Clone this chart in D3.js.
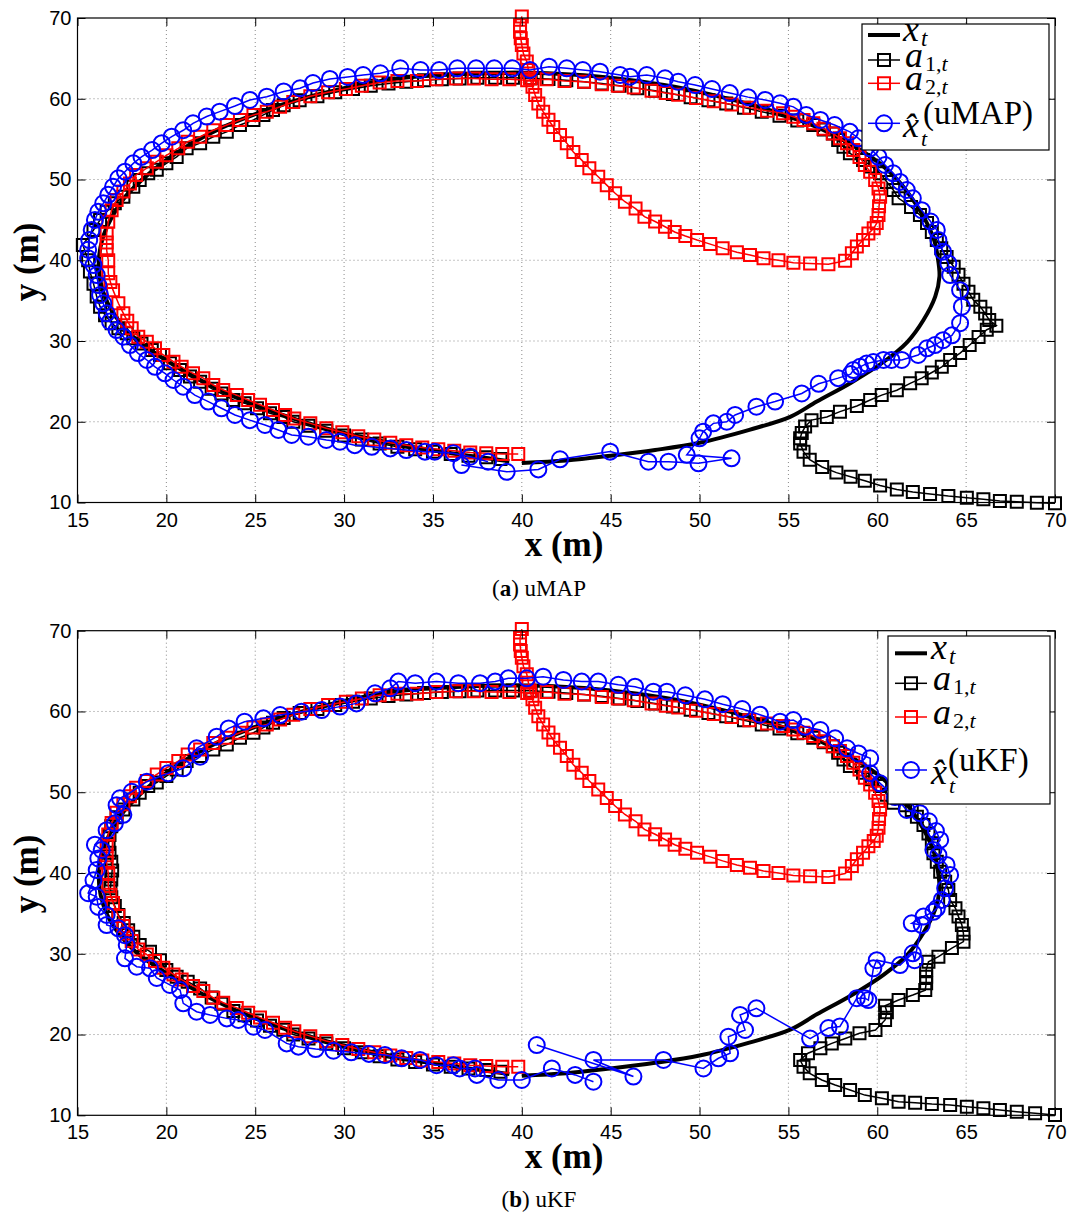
<!DOCTYPE html>
<html>
<head>
<meta charset="utf-8">
<script src="https://cdn.jsdelivr.net/npm/d3@7"></script>
<style>
  body { margin: 0; background: #fff; }
  svg { display: block; }
</style>
</head>
<body>
<svg id="fig" width="1069" height="1216"></svg>
<script>
// ---- axis ticks ----
const xTicks = [15, 20, 25, 30, 35, 40, 45, 50, 55, 60, 65, 70];
const yTicks = [10, 20, 30, 40, 50, 60, 70];

// ---- true target trajectory x_t (m) ----
const truePath = [[40,14.9],[42.5,15.2],[45,15.8],[47.5,16.5],[50,17.4],[52.8,19.0],[55.1,20.6],[56.6,22.5],[58.5,24.8],[60.35,27.4],[61.7,29.9],[62.6,32.6],[63.26,35.5],[63.5,38.0],[63.4,40.4],[63.2,42.5],[62.7,45],[62.0,47.5],[61.2,49.8],[60.2,51.9],[58.8,54.0],[57.2,55.9],[55.3,57.6],[53.0,59.2],[50.5,60.6],[48,61.7],[45,62.6],[42,63.1],[39,63.2],[36,63.0],[33,62.5],[30,61.3],[27,59.6],[25,58.1],[23,56.3],[21.3,54.3],[19.8,52.1],[18.6,49.9],[17.6,47.6],[16.9,45.2],[16.4,42.6],[16.2,40.0],[16.3,37.3],[16.7,34.7],[17.4,32.3],[18.3,30.2],[19.5,28.3],[21.3,25.9],[23.4,23.5],[25.8,21.4],[28.3,19.6],[30.8,18.2],[33.3,17.1],[35.8,16.2],[38.0,15.5],[39.3,15.1]];

// ---- agent 1 track: start segment (uMAP run) ----
const a1StartMAP = [[70.0,9.9],[68.98,9.98],[67.85,10.1],[66.9,10.2],[65.97,10.4],[65.04,10.6],[64.0,10.8],[62.97,11.05],[62.0,11.3],[61.1,11.6],[60.16,12.1],[59.3,12.7],[58.5,13.2],[57.7,13.7],[56.9,14.4],[56.2,15.3],[55.85,16.3],[55.66,17.3],[55.66,17.95],[55.75,18.6],[55.94,19.4],[56.3,20.2],[57.16,20.6],[57.9,21.25],[58.85,21.95],[59.6,22.7],[60.25,23.3],[61.1,23.9],[61.85,24.76],[62.5,25.4],[63.07,26.1],[63.63,26.8],[64.1,27.65],[64.66,28.5],[65.2,29.5],[65.7,30.5],[66.16,31.4],[66.7,31.9],[66.3,32.6],[66.07,33.4],[65.8,34.25],[65.4,35.1],[65.13,36.1],[64.85,37.1],[64.57,38.2],[64.3,39.2],[63.9,40.4],[63.6,41.5],[63.35,42.5],[63.07,43.5],[62.8,44.6],[62.4,45.6],[61.9,46.6],[61.2,47.67]];

// ---- agent 1 track: start segment (uKF run) ----
const a1StartKF = [[70.0,10.04],[68.88,10.25],[67.85,10.45],[66.9,10.66],[65.97,10.87],[65.04,11.07],[64.1,11.28],[63.07,11.4],[62.13,11.56],[61.2,11.69],[60.26,12.1],[59.3,12.5],[58.47,13.13],[57.63,13.75],[56.88,14.37],[56.2,15.2],[55.85,16.0],[55.66,16.85],[56.1,17.68],[56.8,18.3],[57.44,18.9],[58.2,19.5],[59.0,20.15],[59.9,20.56],[60.44,21.8],[60.54,22.75],[60.44,23.57],[61.2,24.27],[62.0,24.9],[62.7,25.5],[62.75,26.35],[62.75,27.16],[62.75,28.0],[62.88,29.0],[63.44,29.64],[64.2,30.7],[64.85,31.5],[64.85,32.5],[64.76,33.56],[64.57,34.6],[64.4,35.63],[64.1,36.66],[64.0,37.9],[63.82,38.93],[63.54,40.16],[63.35,41.4],[63.16,42.44],[63.07,43.68],[62.88,44.9],[62.6,45.95],[62.23,46.97],[61.94,47.8],[61.57,48.4]];

// ---- agent 1 track: upper part of the loop (shared) ----
const a1Upper = [[60.9,48.7],[60.54,49.7],[60.16,50.77],[59.7,51.6],[59.2,52.4],[58.46,53.24],[58.1,54.06],[57.8,54.9],[57.5,55.7],[57.0,56.2],[56.4,56.75],[55.5,57.3],[54.5,57.9],[53.5,58.4],[52.5,58.9],[51.5,59.4],[50.5,59.8],[49.5,60.2],[48.5,60.6],[47.5,61.0],[46.5,61.3],[45.5,61.6],[44.5,61.9],[43.5,62.1],[42.5,62.3],[41.5,62.45],[40.5,62.55],[39.5,62.6],[38.5,62.6],[37.5,62.6],[36.5,62.5],[35.5,62.4],[34.5,62.3],[33.5,62.1],[32.5,61.9],[31.5,61.6],[30.5,61.2],[29.5,60.8],[28.5,60.3],[27.5,59.8],[26.6,59.2],[26.0,58.6],[25.46,58.0],[24.9,57.37],[24.14,56.75],[23.4,55.9],[22.64,55.3],[21.9,54.5],[21.14,53.86],[20.58,52.8],[20.0,52.0],[19.46,51.2],[18.98,50.77],[18.5,49.94],[18.14,49.1]];

// ---- agent 1 track: left side and bottom (uMAP run) ----
const a1LowerMAP = [[17.58,47.87],[17.1,47.05],[16.64,46.0],[16.27,45.0],[15.9,43.75],[15.3,41.9],[15.6,40.0],[15.7,38.6],[15.9,37.1],[16.08,35.5],[16.27,34.25],[16.55,33.2],[16.92,32.2],[17.3,31.57],[17.77,30.95],[18.14,30.33],[18.6,29.7],[19.18,28.9],[19.64,28.27],[20.2,27.24],[20.77,26.4],[21.33,25.6],[21.9,24.96],[22.55,24.1],[23.1,23.5],[23.77,22.7],[24.4,22.3],[25.1,21.67],[25.83,21.05],[26.58,20.6],[27.14,20.0],[28.0,19.5],[29.0,18.9],[30.0,18.3],[31.0,17.8],[32.0,17.3],[33.0,16.9],[34.0,16.6],[35.0,16.3],[36.0,16.0],[37.0,15.8],[38.0,15.6],[38.8,15.4]];

// ---- agent 1 track: left side and bottom (uKF run) ----
const a1LowerKF = [[17.58,47.87],[17.2,46.9],[16.9,45.8],[16.8,44.7],[16.75,43.6],[16.8,42.5],[16.9,41.4],[16.95,40.3],[16.9,39.2],[16.85,38.1],[16.9,37.0],[17.1,35.9],[17.3,34.8],[17.6,33.8],[17.85,32.9],[18.14,32.1],[18.5,31.1],[19.08,30.26],[19.64,29.2],[20.0,28.0],[20.58,27.16],[21.2,26.55],[21.9,25.7],[22.55,24.6],[23.1,23.8],[23.77,22.9],[24.4,22.4],[25.1,21.75],[25.83,21.1],[26.58,20.6],[27.14,20.0],[28.0,19.5],[29.0,18.9],[30.0,18.3],[31.0,17.8],[32.0,17.3],[33.0,16.9],[34.0,16.6],[35.0,16.3],[36.0,16.0],[37.0,15.8],[38.0,15.6],[38.8,15.4]];

// ---- agent 2 track (shared) ----
const a2Path = [[40.0,70.2],[39.9,69.1],[39.9,68.3],[39.94,67.5],[40.0,66.65],[40.09,65.6],[40.28,64.6],[40.37,63.56],[40.46,62.5],[40.6,61.5],[40.75,60.46],[40.93,59.4],[41.2,58.4],[41.5,57.4],[41.77,56.5],[42.15,55.5],[42.53,54.5],[42.9,53.4],[43.37,52.4],[43.8,51.4],[44.3,50.35],[44.78,49.3],[45.25,48.3],[45.8,47.25],[46.4,46.4],[46.9,45.4],[47.5,44.8],[48.06,44.15],[48.6,43.5],[49.2,43.0],[49.86,42.5],[50.6,42.0],[51.3,41.5],[52.1,41.0],[52.84,40.65],[53.6,40.24],[54.44,40.0],[55.28,39.7],[56.22,39.6],[57.25,39.5],[58.19,39.94],[58.57,40.86],[58.85,41.7],[59.2,42.5],[59.5,43.3],[59.8,43.95],[59.97,44.6],[60.07,45.6],[60.1,46.7],[60.16,47.87],[60.07,48.9],[59.88,49.94],[59.6,50.97],[59.3,51.8],[59.0,52.8],[58.65,53.65],[58.3,54.5],[57.9,55.1],[57.5,55.7],[56.97,56.3],[56.4,56.96],[55.85,57.37],[55.28,57.78],[54.7,58.2],[53.8,58.5],[52.8,58.9],[51.8,59.3],[50.8,59.7],[49.8,60.1],[48.8,60.5],[48.1,60.7],[47.3,61.0],[46.3,61.4],[45.4,61.6],[44.5,61.8],[43.5,62.1],[42.4,62.2],[41.4,62.4],[40.3,62.3],[39.3,62.4],[38.3,62.4],[37.3,62.5],[36.3,62.5],[35.2,62.4],[34.1,62.2],[33.0,62.2],[32.0,62.0],[31.0,61.6],[30.1,61.2],[29.1,60.8],[28.1,60.3],[27.14,59.6],[26.4,59.0],[25.65,58.4],[24.9,58.0],[24.14,57.37],[23.4,56.75],[22.64,56.1],[21.9,55.3],[21.2,54.68],[20.67,53.86],[20.0,53.0],[19.46,52.2],[18.9,51.4],[18.3,50.56],[17.95,49.5],[17.58,48.5],[17.2,47.46],[16.92,46.2],[16.73,44.77],[16.64,43.3],[16.64,42.2],[16.64,41.27],[16.73,40.0],[16.73,38.4],[16.85,37.3],[17.0,36.3],[17.3,34.67],[17.58,33.43],[17.8,32.5],[18.05,31.57],[18.42,30.53],[18.9,29.9],[19.36,29.1],[19.83,28.27],[20.4,27.44],[20.86,26.8],[21.5,26.0],[22.08,25.4],[22.64,24.55],[23.2,23.93],[23.96,23.3],[24.6,22.7],[25.27,22.1],[26.0,21.46],[26.68,20.84],[27.2,20.4],[28.1,19.8],[29.0,19.2],[29.9,18.7],[30.8,18.2],[31.7,17.8],[32.6,17.4],[33.5,17.1],[34.4,16.8],[35.3,16.6],[36.2,16.4],[37.1,16.2],[38.0,16.1],[38.9,16.0],[39.8,16.0]];

// ---- uMAP estimate ----
const estMAP = [[36.6,14.64],[39.15,13.8],[40.93,14.1],[42.15,15.35],[44.97,16.3],[47.12,15.05],[48.25,15.05],[49.94,14.85],[51.8,15.47],[49.28,15.9],[50.0,17.95],[50.2,18.77],[50.78,19.8],[51.53,20.0],[52.0,20.84],[53.2,21.86],[54.25,22.5],[55.75,23.5],[56.7,24.7],[57.8,25.4],[58.5,25.9],[58.66,26.4],[59.03,26.8],[59.4,27.2],[59.78,27.4],[60.35,27.65],[60.8,27.65],[61.38,27.65],[62.3,28.27],[62.8,29.1],[63.25,29.5],[63.7,30.1],[64.2,30.7],[64.66,32.2],[64.76,34.25],[64.66,36.3],[64.1,38.17],[64.0,39.6],[63.7,41.06],[63.44,42.5],[63.35,43.75],[63.0,44.8],[62.5,46.2],[62.0,47.67],[61.66,48.7],[61.28,49.7],[60.9,50.77],[60.44,51.8],[60.07,52.8],[59.6,53.86],[58.94,55.1],[58.46,55.9],[57.6,56.75],[56.8,57.37],[56.0,58.0],[55.28,59.0],[54.53,59.44],[53.7,59.85],[52.73,60.2],[51.7,60.7],[50.7,61.2],[49.75,61.7],[48.8,62.1],[48.06,62.53],[47.03,62.94],[46.09,62.73],[45.53,62.94],[44.4,63.35],[43.43,63.56],[42.53,63.77],[41.53,63.97],[40.46,63.56],[39.47,63.77],[38.45,63.77],[37.43,63.77],[36.37,63.77],[35.35,63.56],[34.3,63.56],[33.16,63.77],[32.04,63.15],[31.07,62.94],[30.2,62.7],[29.2,62.45],[28.25,61.95],[27.52,61.3],[26.6,60.9],[25.65,60.25],[24.7,59.85],[23.86,59.1],[23.0,58.4],[22.27,57.8],[21.5,56.96],[20.95,56.1],[20.3,55.3],[19.74,54.5],[19.2,53.65],[18.6,52.8],[18.14,52.0],[17.67,50.97],[17.3,50.15],[17.0,49.1],[16.73,48.1],[16.45,47.05],[16.17,46.0],[15.98,45.0],[15.8,43.75],[15.66,42.5],[15.6,41.3],[15.6,40.24],[15.9,39.4],[16.08,38.17],[16.17,36.93],[16.27,35.7],[16.45,34.67],[16.64,33.43],[16.83,32.4],[17.2,31.36],[17.58,30.53],[17.95,29.5],[18.4,28.5],[18.9,27.65],[19.36,26.8],[19.92,26.0],[20.4,25.17],[20.95,24.34],[21.6,23.3],[22.36,22.5],[23.1,21.67],[23.86,20.84],[24.7,20.2],[25.55,19.6],[26.3,18.98],[27.05,18.36],[27.99,18.15],[29.0,17.74],[29.77,17.53],[30.6,17.1],[31.56,16.9],[32.6,16.7],[33.5,16.5],[34.55,16.3],[35.1,16.3],[36.15,16.1],[37.1,15.67],[38.1,15.05]];

// ---- uKF estimate ----
const estKF = [[40.84,18.7],[46.28,14.8],[44.03,16.85],[47.97,16.85],[50.22,15.8],[51.06,17.06],[51.72,17.68],[51.62,19.73],[52.56,20.56],[52.28,22.42],[53.2,23.25],[56.22,19.5],[57.25,20.8],[57.9,21.0],[58.85,24.5],[59.3,24.5],[59.5,24.27],[59.78,28.2],[59.97,29.2],[61.28,28.6],[62.0,30.06],[62.1,29.2],[62.5,33.56],[61.94,33.77],[62.6,34.6],[63.16,35.2],[63.35,35.63],[63.63,36.66],[63.82,38.1],[64.1,39.76],[63.9,41.0],[63.44,42.2],[63.16,42.85],[63.54,44.1],[63.3,45.2],[62.9,46.4],[62.4,47.4],[61.66,47.8],[61.0,49.4],[60.16,51.1],[59.6,52.35],[59.6,54.2],[58.94,54.8],[58.3,55.44],[57.63,56.67],[56.8,57.7],[55.94,58.1],[55.28,58.94],[54.53,58.73],[53.4,59.6],[52.4,60.3],[51.3,60.9],[50.3,61.5],[49.2,62.0],[48.16,62.45],[47.4,62.45],[46.37,63.07],[45.43,63.3],[44.3,63.7],[43.37,63.7],[42.34,63.9],[41.2,64.3],[40.28,64.1],[39.24,64.1],[38.5,63.7],[37.65,63.5],[36.43,63.5],[35.2,63.7],[34.0,63.5],[33.05,63.7],[32.6,62.87],[31.74,62.25],[30.7,61.0],[29.77,60.6],[28.74,60.18],[27.6,59.97],[26.4,59.56],[25.46,59.15],[24.4,58.73],[23.5,57.9],[22.83,56.88],[21.7,55.44],[21.9,54.4],[20.95,52.96],[20.1,52.35],[18.9,51.3],[18.05,50.06],[17.39,49.25],[17.2,48.4],[17.58,47.2],[17.1,46.15],[16.64,45.3],[15.98,43.5],[16.36,42.85],[16.17,41.8],[16.08,40.37],[15.9,39.1],[15.6,37.5],[16.08,37.06],[16.17,35.8],[16.64,34.8],[16.64,33.56],[17.3,33.15],[17.67,32.3],[17.77,31.1],[17.67,29.44],[18.33,28.4],[19.08,28.2],[19.46,27.0],[20.2,26.14],[20.77,25.5],[20.95,23.86],[21.7,22.83],[22.46,22.42],[23.4,22.0],[24.05,21.8],[24.9,20.97],[25.55,20.56],[26.77,18.9],[27.43,18.5],[28.4,18.2],[29.4,18.0],[30.4,17.8],[31.4,17.6],[32.3,17.47],[33.24,17.06],[34.27,16.85],[35.2,16.2],[36.15,16.2],[36.5,15.8],[37.37,15.8],[37.47,15.0],[38.68,14.37],[40.0,14.37],[41.69,15.8],[43.0,15.0],[44.03,14.16]];

const svg = d3.select("#fig");
const FONT_TICK = "'Liberation Sans', Arial, sans-serif";
const FONT_SERIF = "'Liberation Serif', 'Times New Roman', serif";

const panels = [
  { top: 18, bottom: 502.5, a1: a1StartMAP.concat(a1Upper, a1LowerMAP), est: estMAP,
    letter: "a", method: "uMAP", xLabelY: 556, capY: 596, yLabelY: 262,
    legend: { x0: 862, y0: 24, x1: 1049, y1: 150, sx0: 868, sx1: 900,
              rows: [35, 60, 83.3, 123.3], tx: 903, supDx: 4 } },
  { top: 630.7, bottom: 1115.3, a1: a1StartKF.concat(a1Upper, a1LowerKF), est: estKF,
    letter: "b", method: "uKF", xLabelY: 1168, capY: 1207, yLabelY: 874,
    legend: { x0: 888, y0: 636, x1: 1050, y1: 804, sx0: 895, sx1: 927,
              rows: [653.3, 683.3, 717, 770], tx: 931, supDx: 1 } }
];

const x = d3.scaleLinear().domain([15, 70]).range([77.5, 1055]);
const squareSym = d3.symbol().type(d3.symbolSquare).size(12 * 12);
const circleSym = d3.symbol().type(d3.symbolCircle).size(Math.PI * 8 * 8);

function markers(g, data, sx, sy, sym, color) {
  g.append("g").selectAll("path").data(data).join("path")
    .attr("transform", d => `translate(${sx(d[0])},${sy(d[1])})`)
    .attr("d", sym)
    .attr("fill", "none").attr("stroke", color).attr("stroke-width", 2);
}

function drawPanel(p) {
  const g = svg.append("g");
  const y = d3.scaleLinear().domain([10, 70]).range([p.bottom, p.top]);

  // dotted grid
  g.append("g").selectAll("line").data(xTicks.slice(1, -1)).join("line")
    .attr("x1", d => x(d)).attr("x2", d => x(d))
    .attr("y1", p.top).attr("y2", p.bottom)
    .attr("stroke", "#8a8a8a").attr("stroke-width", 1).attr("stroke-dasharray", "1,3");
  g.append("g").selectAll("line").data(yTicks.slice(1, -1)).join("line")
    .attr("y1", d => y(d)).attr("y2", d => y(d))
    .attr("x1", 77.5).attr("x2", 1055)
    .attr("stroke", "#8a8a8a").attr("stroke-width", 1).attr("stroke-dasharray", "1,3");

  const smooth = d3.line().x(d => x(d[0])).y(d => y(d[1])).curve(d3.curveCatmullRom);
  const poly = d3.line().x(d => x(d[0])).y(d => y(d[1]));

  // true trajectory
  g.append("path").datum(truePath).attr("d", smooth)
    .attr("fill", "none").attr("stroke", "#000").attr("stroke-width", 4).attr("stroke-linejoin", "round");

  // agent 1
  g.append("path").datum(p.a1).attr("d", poly)
    .attr("fill", "none").attr("stroke", "#000").attr("stroke-width", 1.5);
  markers(g, p.a1, x, y, squareSym, "#000");

  // agent 2
  g.append("path").datum(a2Path).attr("d", poly)
    .attr("fill", "none").attr("stroke", "#ff0000").attr("stroke-width", 1.5);
  markers(g, a2Path, x, y, squareSym, "#ff0000");

  // estimate
  g.append("path").datum(p.est).attr("d", poly)
    .attr("fill", "none").attr("stroke", "#0000ff").attr("stroke-width", 1.5);
  markers(g, p.est, x, y, circleSym, "#0000ff");

  // axes with inward ticks on all four sides
  const styleAxis = sel => {
    sel.select(".domain").remove();
    sel.selectAll(".tick line").attr("stroke", "#000");
    sel.selectAll("text").attr("font-family", FONT_TICK).attr("font-size", 20).attr("fill", "#000");
  };
  g.append("g").attr("transform", `translate(0,${p.bottom})`)
    .call(d3.axisBottom(x).tickValues(xTicks).tickSizeInner(-8).tickSizeOuter(0).tickPadding(10))
    .call(styleAxis);
  g.append("g").attr("transform", `translate(0,${p.top})`)
    .call(d3.axisTop(x).tickValues(xTicks).tickSizeInner(-8).tickSizeOuter(0).tickFormat(""))
    .call(styleAxis);
  g.append("g").attr("transform", `translate(77.5,0)`)
    .call(d3.axisLeft(y).tickValues(yTicks).tickSizeInner(-8).tickSizeOuter(0).tickPadding(6))
    .call(styleAxis);
  g.append("g").attr("transform", `translate(1055,0)`)
    .call(d3.axisRight(y).tickValues(yTicks).tickSizeInner(-8).tickSizeOuter(0).tickFormat(""))
    .call(styleAxis);
  g.append("rect").attr("x", 77.5).attr("y", p.top).attr("width", 1055 - 77.5).attr("height", p.bottom - p.top)
    .attr("fill", "none").attr("stroke", "#000").attr("stroke-width", 1.2);

  // axis titles
  g.append("text").attr("x", 564).attr("y", p.xLabelY).attr("text-anchor", "middle")
    .attr("font-family", FONT_SERIF).attr("font-weight", "bold").attr("font-size", 35).text("x (m)");
  g.append("text").attr("transform", `translate(38,${p.yLabelY}) rotate(-90)`).attr("text-anchor", "middle")
    .attr("font-family", FONT_SERIF).attr("font-weight", "bold").attr("font-size", 35).text("y (m)");

  // caption
  const cap = g.append("text").attr("x", 539).attr("y", p.capY).attr("text-anchor", "middle")
    .attr("font-family", FONT_SERIF).attr("font-size", 23);
  cap.append("tspan").text("(");
  cap.append("tspan").attr("font-weight", "bold").text(p.letter);
  cap.append("tspan").text(") " + p.method);

  drawLegend(g, p);
}

function drawLegend(g, p) {
  const L = p.legend;
  const lg = g.append("g");
  lg.append("rect").attr("x", L.x0).attr("y", L.y0).attr("width", L.x1 - L.x0).attr("height", L.y1 - L.y0)
    .attr("fill", "#fff").attr("stroke", "#000").attr("stroke-width", 1.2);
  const mx = (L.sx0 + L.sx1) / 2;
  const rowsSpec = [
    { color: "#000", w: 4, sym: null },
    { color: "#000", w: 1.5, sym: squareSym },
    { color: "#ff0000", w: 1.5, sym: squareSym },
    { color: "#0000ff", w: 1.5, sym: circleSym }
  ];
  rowsSpec.forEach((r, i) => {
    const yy = L.rows[i];
    lg.append("line").attr("x1", L.sx0).attr("x2", L.sx1).attr("y1", yy).attr("y2", yy)
      .attr("stroke", r.color).attr("stroke-width", r.w);
    if (r.sym) {
      lg.append("path").attr("d", r.sym).attr("transform", `translate(${mx},${yy})`)
        .attr("fill", "none").attr("stroke", r.color).attr("stroke-width", 2);
    }
  });

  // legend labels: one text element per entry, scripts as flowing tspans
  const tx = L.tx, R = L.rows;
  const label = (xx, yy) => lg.append("text").attr("x", xx).attr("y", yy)
    .attr("font-family", FONT_SERIF).attr("font-size", 36).attr("font-style", "italic");

  const l0 = label(tx, R[0] + 6).text("x");
  l0.append("tspan").attr("dx", 2).attr("dy", 5).attr("font-size", 23).text("t");

  [1, 2].forEach(i => {
    const li = label(tx + 2, R[i] + 7).text("a");
    li.append("tspan").attr("dx", 2).attr("dy", 4).attr("font-size", 22).attr("font-style", "normal").text(i + ",");
    li.append("tspan").attr("font-size", 22).text("t");
  });

  const l3 = label(tx, R[3] + 14).text("x\u0302");
  l3.append("tspan").attr("dx", L.supDx).attr("dy", -13).attr("font-size", 33)
    .attr("font-style", "normal").text("(" + p.method + ")");
  l3.append("tspan").attr("x", tx + 18).attr("y", R[3] + 23).attr("font-size", 22).text("t");
}

panels.forEach(drawPanel);
</script>
</body>
</html>
